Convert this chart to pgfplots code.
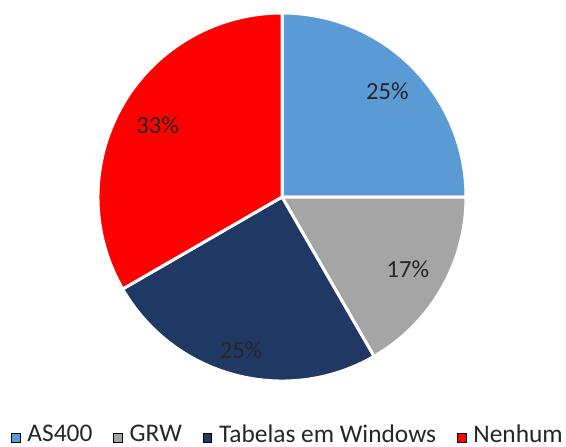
\documentclass[border=0pt]{standalone}
\usepackage{fontspec}
\setmainfont{Carlito}
\usepackage{pgfplots}
\usepackage{pgfplotstable}
\pgfplotsset{compat=1.18}
\definecolor{cA}{HTML}{5B9BD5}
\definecolor{cB}{HTML}{A5A5A5}
\definecolor{cC}{HTML}{203864}
\definecolor{cD}{HTML}{FF0000}
\definecolor{txt}{HTML}{262626}
% counts per category (out of 12)
\pgfplotstableread{
idx value
0 3
1 2
2 3
3 4
}\piedata
\pgfplotstablegetelem{0}{value}\of\piedata \let\vA\pgfplotsretval
\pgfplotstablegetelem{1}{value}\of\piedata \let\vB\pgfplotsretval
\pgfplotstablegetelem{2}{value}\of\piedata \let\vC\pgfplotsretval
\pgfplotstablegetelem{3}{value}\of\piedata \let\vD\pgfplotsretval
\pgfmathsetmacro\tot{\vA+\vB+\vC+\vD}
\pgfmathsetmacro\aA{90}
\pgfmathsetmacro\aB{\aA-360*\vA/\tot}
\pgfmathsetmacro\aC{\aB-360*\vB/\tot}
\pgfmathsetmacro\aD{\aC-360*\vC/\tot}
\pgfmathsetmacro\aE{\aD-360*\vD/\tot}
\newcommand\slice[4]{%
  \edef\temp{\noexpand\fill[#3, draw=white, line width=1.5pt, line join=round]
    (axis cs:0,0) -- (axis cs:{cos(#1)},{sin(#1)})
    arc[start angle=#1, end angle=#2, radius=92pt] -- cycle;}\temp}
\newcommand\slicelabel[4]{%
  \pgfmathsetmacro\mid{(#1+#2)/2}%
  \pgfmathsetmacro\pct{round(100*#3/\tot)}%
  \pgfmathtruncatemacro\pcti{\pct}%
  \edef\temp{\noexpand\node[text=txt, font=\noexpand\fontsize{12.3}{14}\noexpand\selectfont]
    at (axis cs:{#4*cos(\mid)},{#4*sin(\mid)}) {\pcti\noexpand\%};}\temp}
\begin{document}
\begin{tikzpicture}
\path[use as bounding box] (0,0) rectangle (283pt,223pt);
\begin{axis}[
  at={(141pt,124.5pt)}, anchor=center,
  scale only axis, width=184pt, height=184pt,
  xmin=-1, xmax=1, ymin=-1, ymax=1,
  hide axis, clip=false,
  legend columns=-1,
  legend style={draw=none, fill=none, at={(0.5136,-0.147)}, anchor=center,
    font=\fontsize{12.7}{14}\selectfont, text=txt,
    /tikz/every odd column/.append style={column sep=3.5pt},
    /tikz/every even column/.append style={column sep=10.5pt},
    nodes={inner sep=0pt}},
  legend image code/.code={\fill[#1] (0pt,-3.4pt) rectangle (4.2pt,0.8pt);},
]
\addlegendimage{fill=cA}\addlegendentry{AS400}
\addlegendimage{fill=cB}\addlegendentry{GRW}
\addlegendimage{fill=cC}\addlegendentry{Tabelas em Windows}
\addlegendimage{fill=cD}\addlegendentry{Nenhum}
\slice{\aA}{\aB}{cA}{}
\slice{\aB}{\aC}{cB}{}
\slice{\aC}{\aD}{cC}{}
\slice{\aD}{\aE}{cD}{}
\slicelabel{\aA}{\aB}{\vA}{0.81}
\slicelabel{\aB}{\aC}{\vB}{0.79}
\slicelabel{\aC}{\aD}{\vC}{0.86}
\slicelabel{\aD}{\aE}{\vD}{0.78}
\end{axis}
\end{tikzpicture}
\end{document}
